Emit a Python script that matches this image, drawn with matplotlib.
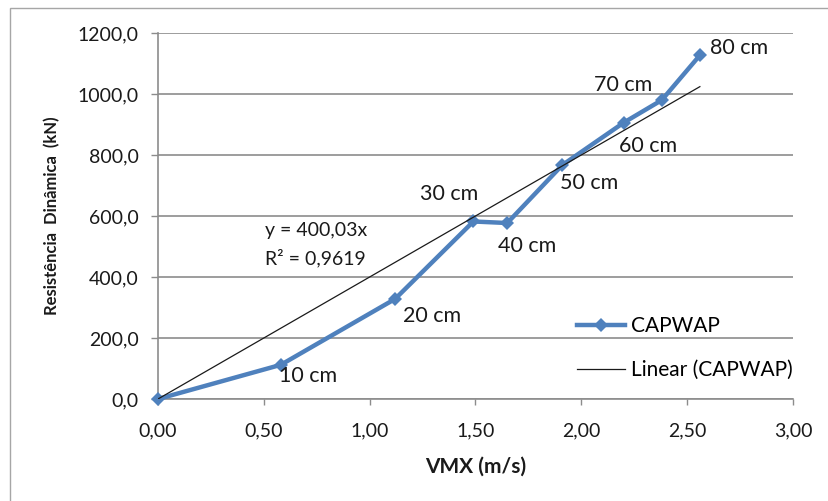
import matplotlib
matplotlib.use("Agg")
import matplotlib.pyplot as plt
from matplotlib.patches import Rectangle
from matplotlib.lines import Line2D

# dados
vmx = [0.00, 0.58, 1.12, 1.49, 1.65, 1.91, 2.20, 2.38, 2.56]
resistencia = [0.0, 112.0, 328.0, 582.0, 577.0, 767.0, 906.0, 980.0, 1127.0]
rotulos = ["", "10 cm", "20 cm", "30 cm", "40 cm", "50 cm", "60 cm", "70 cm", "80 cm"]
coef_angular = 400.03
r2_texto = "R² = 0,9619"
eq_texto = "y = 400,03x"

x_ticks = [0.0, 0.5, 1.0, 1.5, 2.0, 2.5, 3.0]
x_labels = ["0,00", "0,50", "1,00", "1,50", "2,00", "2,50", "3,00"]
y_ticks = [0, 200, 400, 600, 800, 1000, 1200]
y_labels = ["0,0", "200,0", "400,0", "600,0", "800,0", "1000,0", "1200,0"]

# deslocamento dos rótulos em pixels
offsets = [(0, 0), (-2, -11), (8, -17), (-53, 27), (-9, -23),
           (-2, -18), (-5, -23), (-68, 15), (10, 7)]

AZUL = "#4F81BD"
CINZA = "#8C8C8C"
TEXTO = "#1a1a1a"
FONTE = ["Lato", "DejaVu Sans"]

plt.rcParams["font.family"] = FONTE

fig = plt.figure(figsize=(8.29, 5.01), dpi=100)
fig.patches.append(Rectangle((10 / 829, -0.1), 1.2, 1.1 - 8 / 501,
                             transform=fig.transFigure, fill=False,
                             edgecolor="#A6A6A6", linewidth=1.0))
ax = fig.add_axes([158 / 829, 1 - 399 / 501, (793 - 158) / 829, (399 - 33) / 501])

ax.set_xlim(0, 3)
ax.set_ylim(0, 1200)
ax.set_xticks(x_ticks)
ax.set_xticklabels(x_labels)
ax.set_yticks(y_ticks)
ax.set_yticklabels(y_labels)
ax.tick_params(axis="both", direction="out", width=1, color=CINZA,
               labelsize=14, labelcolor=TEXTO)
ax.tick_params(axis="y", length=5, pad=9)
ax.tick_params(axis="x", length=4, pad=13)
for lado in ["top", "right"]:
    ax.spines[lado].set_visible(False)
for lado in ["left", "bottom"]:
    ax.spines[lado].set_color(CINZA)
    ax.spines[lado].set_linewidth(1.2)
ax.yaxis.grid(True, color=CINZA, linewidth=1.2)
ax.set_axisbelow(True)

# linha de tendência
x_tend = [0.0, max(vmx)]
y_tend = [coef_angular * v for v in x_tend]
ax.plot(x_tend, y_tend, color=TEXTO, linewidth=0.9, zorder=4)

ax.plot(vmx, resistencia, color=AZUL, linewidth=3.2, marker="D", markersize=7.5,
        markeredgewidth=0, zorder=3, clip_on=False)

for x, y, txt, off in zip(vmx, resistencia, rotulos, offsets):
    if txt:
        ax.annotate(txt, (x, y), xytext=off, textcoords="offset pixels",
                    ha="left", va="center", fontsize=15.5, color=TEXTO)

ax.text(0.505, 551, eq_texto, fontsize=14, va="center", ha="left", color=TEXTO)
ax.text(0.505, 462, r2_texto, fontsize=14, va="center", ha="left", color=TEXTO)

ax.set_xlabel("VMX (m/s)", fontsize=15, fontweight="bold", labelpad=12, color=TEXTO)
ax.set_ylabel("Resistência  Dinâmica  (kN)", fontsize=12, fontweight="bold",
              labelpad=12, color=TEXTO)

handles = [
    Line2D([], [], color=AZUL, linewidth=3.2, marker="D", markersize=7.5, markeredgewidth=0),
    Line2D([], [], color=TEXTO, linewidth=0.9),
]
ax.legend(handles, ["CAPWAP", "Linear (CAPWAP)"], loc="upper left",
          bbox_to_anchor=(0.647, 0.249), borderaxespad=0, frameon=False, fontsize=15,
          handlelength=2.3, labelspacing=1.15, handletextpad=0.3)

fig.savefig("out.png", dpi=100)
